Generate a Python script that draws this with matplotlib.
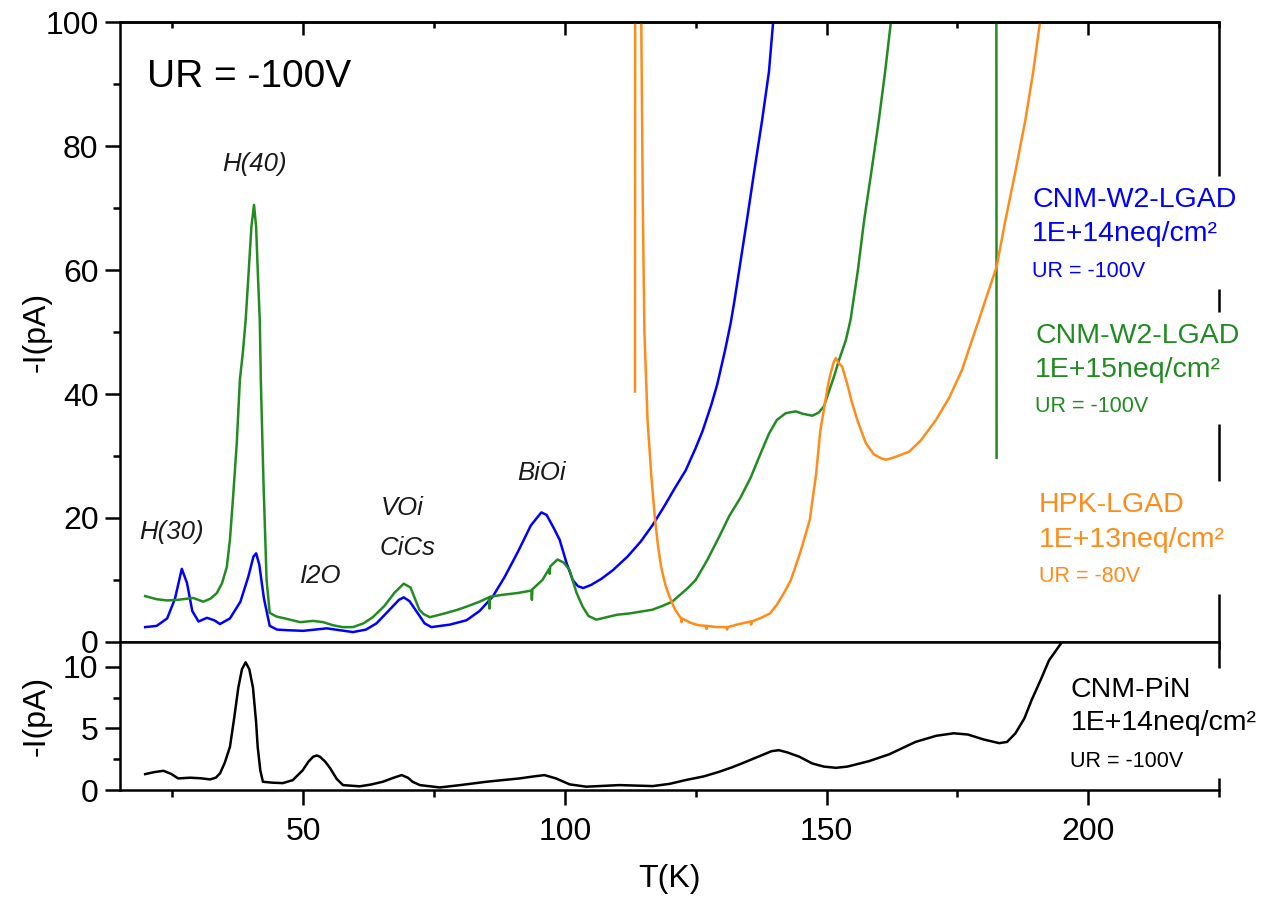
import matplotlib
matplotlib.use("Agg")
import matplotlib.pyplot as plt
from matplotlib.ticker import MultipleLocator

plt.rcParams['font.family'] = ['Liberation Sans', 'DejaVu Sans']

# TSC spectra, -I vs T
blue_T = [19.8, 22, 24, 25.5, 26.8, 27.8, 28.8, 30.0, 31.6, 33, 34.1, 36, 38, 39.5, 40.5, 41.0,
          41.6, 42.5, 43.6, 45, 47, 50, 54.5, 57, 59.5, 62, 64, 66.5, 68.3, 69.2, 70.3, 72, 73.2,
          74.5, 78, 81.2, 83.7, 86.2, 88.5, 91, 93.5, 95.5, 96.5, 97.8, 99, 100.3, 101.5, 102.5,
          103.5, 105, 107, 109.2, 112, 114.5, 116.8, 119, 121, 123.1, 125, 126.3, 128, 129.1,
          130.6, 131.7, 132.4, 133.5, 134.8, 136.2, 137.7, 139, 139.8, 141]
blue_I = [2.4, 2.6, 3.8, 7, 11.8, 9.5, 5, 3.3, 3.9, 3.5, 2.9, 3.8, 6.5, 10.5, 13.8, 14.3,
          12.5, 7, 2.6, 2.0, 1.9, 1.8, 2.2, 1.9, 1.6, 2.0, 3.0, 5.2, 6.8, 7.2, 6.6, 4.5, 3.0,
          2.4, 2.8, 3.5, 5.0, 7.3, 10.5, 14.5, 18.8, 20.9, 20.5, 18.5, 16.5, 12.8, 10.0, 9.0,
          8.7, 9.2, 10.2, 11.6, 13.8, 16.2, 18.9, 21.9, 24.8, 27.7, 31.3, 34.0, 38.3, 41.5,
          47.0, 51.5, 55.0, 61.0, 68.1, 76, 84.2, 92, 100, 110]

green_T = [19.8, 22, 24, 26, 28, 29, 30.9, 32.3, 33.5, 34.5, 35.4, 36.0, 36.6, 37.3, 37.9, 38.5,
           39.0, 39.6, 40.1, 40.6, 41.0, 41.4, 41.7, 41.9, 42.4, 43.0, 43.6, 44.9, 47, 49.4,
           51.9, 53.8, 55.7, 57.5, 59.5, 61.5, 63.3, 65.5, 67.5, 69.2, 70.5, 72.2, 73, 74.2, 77,
           79.5, 81.2, 83.7, 85.5, 85.6, 85.7, 88, 91, 93.6, 93.7, 93.8, 95.7, 97.0, 97.1, 97.2,
           98.6, 99.8, 100.9, 102.2, 103.4, 104.5, 106, 108, 110, 112.3, 114.5, 116.7, 118.6,
           120.5, 122, 123.5, 125, 127.2, 129.5, 131.4, 133.5, 135.5, 137.2, 139, 140.5, 142.2,
           144.1, 145.5, 147.3, 148.5, 149.5, 150.5, 151.5, 152.4, 153.7, 154.6, 156, 157.2,
           158.6, 160, 161.2, 162.3, 170, 182.4, 182.5]
green_I = [7.4, 6.9, 6.7, 6.8, 7.0, 7.1, 6.5, 7.0, 7.9, 9.5, 12.1, 16.5, 23.4, 32, 42.3, 47,
           51.9, 60, 67, 70.5, 67, 58, 51.9, 42.3, 26, 10, 4.7, 4.1, 3.7, 3.2,
           3.4, 3.2, 2.7, 2.4, 2.4, 3.0, 4.0, 5.8, 8.0, 9.4, 8.8, 5.2, 4.5, 4.0, 4.6,
           5.2, 5.7, 6.5, 7.2, 5.4, 7.3, 7.6, 7.9, 8.3, 6.8, 8.5, 10, 11.8, 11.0, 12.2,
           13.3, 12.8, 11.6, 8.0, 5.7, 4.2, 3.6, 4.0, 4.4, 4.6, 4.9, 5.2, 5.8,
           6.5, 7.6, 8.7, 10, 13.2, 17, 20.3, 23.2, 26.5, 30, 33.6, 35.8, 36.9,
           37.2, 36.8, 36.5, 37.0, 38.0, 40.5, 43, 45.5, 48.7, 52, 60, 68.1,
           76, 84.2, 92, 100, 150, 200, 29.7]

orange_T = [113.4, 113.5, 114.3, 114.6, 114.9, 115.2, 115.8, 116.5, 117.2, 117.8, 118.4, 119.2,
            120.0, 121.0, 122.2, 122.3, 122.4, 124, 125.5, 127, 127.1, 127.2, 129, 130.9, 131,
            131.1, 133.3, 135.5, 135.6, 135.7, 137.5, 139.2, 140.5, 141.8, 143.2, 145.0, 146.8,
            148.0, 148.8, 149.6, 150.3, 150.8, 151.4, 151.8, 152.3, 153, 154, 154.9, 156, 157.5,
            159, 160.5, 161.4, 163, 165.8, 168, 170.9, 173.5, 175.9, 177.8, 179.1, 180.5, 182.5,
            184.2, 186, 188.0, 189.5, 190.8, 193]
orange_I = [40.4, 200, 200, 100, 70, 50, 35.8, 27, 20, 15.5, 12.1, 9.2,
            7.3, 5.3, 3.8, 3.2, 3.8, 3.1, 2.7, 2.6, 2.1, 2.6, 2.4, 2.4, 2.0,
            2.4, 2.9, 3.3, 2.8, 3.3, 3.9, 4.6, 6, 7.8, 10, 14.5, 19.7,
            27, 34, 38, 41.5, 43.4, 45.2, 45.8, 45.0, 44.4, 41.5, 38.5, 35.5, 32.1,
            30.3, 29.6, 29.4, 29.8, 30.7, 32.5, 35.8, 39.5, 43.9, 48.7, 51.9, 55.5, 60.5,
            68.1, 75.5, 84.2, 92, 100, 130]

pin_T = [19.8, 21.5, 23.3, 24.8, 26.1, 28.4, 30.5, 32.2, 33.3, 34.1, 35.0, 36.0, 36.8, 37.6,
         38.3, 39.0, 39.7, 40.4, 41.0, 41.3, 41.8, 42.3, 44, 46.1, 48, 49.9, 51, 51.9, 52.6,
         53.2, 54.2, 55.1, 56.4, 57.6, 60.8, 63, 65.2, 67.3, 68.8, 70, 70.9, 72.3, 76.1, 80,
         85, 91.3, 94, 96.1, 98.3, 100.9, 104.1, 110.4, 116.8, 120, 123.1, 126.5, 129.5, 132,
         134.6, 137.5, 139.5, 140.9, 142.5, 144.8, 147.3, 149.5, 151.8, 154, 158.1, 162, 167,
         171, 174.3, 177, 180, 183, 184.5, 186.1, 187.8, 189.2, 191, 192.5, 195, 197]
pin_I = [1.29, 1.45, 1.56, 1.3, 0.94, 1.0, 0.95, 0.86, 1.0, 1.35, 2.2, 3.5, 5.8, 8.3,
         9.8, 10.35, 9.8, 8.3, 5.5, 3.5, 1.6, 0.67, 0.6, 0.56, 0.8, 1.6, 2.3, 2.7, 2.8,
         2.7, 2.3, 1.8, 0.9, 0.4, 0.3, 0.45, 0.67, 1.0, 1.21, 1.0, 0.67, 0.4, 0.21, 0.4,
         0.67, 0.94, 1.1, 1.21, 0.94, 0.46, 0.27, 0.4, 0.32, 0.5, 0.81, 1.1, 1.48, 1.85,
         2.29, 2.8, 3.15, 3.23, 3.05, 2.7, 2.15, 1.9, 1.8, 1.9, 2.34, 2.9, 3.9,
         4.4, 4.6, 4.5, 4.1, 3.8, 3.9, 4.6, 5.8, 7.3, 9.0, 10.5, 12.0, 14.5]

# defect labels: (text, T, I)
peak_names = ['H(30)', 'H(40)', 'I2O', 'VOi', 'CiCs', 'BiOi']
peak_T = [24.9, 40.6, 53.3, 68.9, 69.9, 95.6]
peak_I = [16.6, 76.0, 9.5, 20.5, 14.0, 26.1]

c_blue = '#0000FF'
c_green = '#228B22'
c_orange = '#FF8C1A'

fig = plt.figure(figsize=(12.61, 9.06), dpi=100)
ax1 = fig.add_axes([0.0952, 0.2914, 0.8715, 0.6843])
ax2 = fig.add_axes([0.0952, 0.128, 0.8715, 0.1634], sharex=ax1)

lw = 1.8
ax1.plot(blue_T, blue_I, color=c_blue, lw=lw)
ax1.plot(green_T, green_I, color=c_green, lw=lw)
ax1.plot(orange_T, orange_I, color=c_orange, lw=lw)
ax2.plot(pin_T, pin_I, color='black', lw=lw)

ax1.set_xlim(15, 225)
ax1.set_ylim(0, 100)
ax2.set_ylim(0, 12)

spw = 1.8
fs = 23
for ax in (ax1, ax2):
    for s in ax.spines.values():
        s.set_linewidth(spw)
    ax.spines['right'].set_visible(False)
    ax.xaxis.set_major_locator(MultipleLocator(50))
    ax.xaxis.set_minor_locator(MultipleLocator(25))
    ax.tick_params(which='both', direction='out', width=spw, labelsize=fs)
    ax.tick_params(which='major', length=10.5)
    ax.tick_params(which='minor', length=5)
    ax.tick_params(axis='y', pad=5)
    ax.tick_params(axis='x', pad=9)
    ax.set_ylabel('-I(pA)', fontsize=fs)
    ax.yaxis.set_label_coords(-0.062, 0.5)

ax1.yaxis.set_major_locator(MultipleLocator(20))
ax1.yaxis.set_minor_locator(MultipleLocator(10))
ax1.tick_params(axis='x', labelbottom=False)
ax2.yaxis.set_major_locator(MultipleLocator(5))
ax2.yaxis.set_minor_locator(MultipleLocator(2.5))
ax2.set_xlabel('T(K)', fontsize=fs, labelpad=12)

# inward ticks along the top edge
top = ax1.secondary_xaxis('top')
top.xaxis.set_major_locator(MultipleLocator(50))
top.xaxis.set_minor_locator(MultipleLocator(25))
top.tick_params(which='both', direction='in', width=spw, labeltop=False)
top.tick_params(which='major', length=9)
top.tick_params(which='minor', length=4.5)
top.spines['top'].set_linewidth(spw)

# right edge, broken where the sample labels sit
seg_lo = [75.2, 53.3, 25.9, 0]
seg_hi = [100, 56.9, 35.2, 7.7]
ax1.vlines([225] * len(seg_lo), seg_lo, seg_hi, color='black', lw=spw, clip_on=False)
ax2.vlines([225, 225], [9.9, 0], [12, 0.97], color='black', lw=spw, clip_on=False)

ax1.text(20.1, 89.5, 'UR = -100V', fontsize=28, ha='left', va='baseline')
for name, t, i in zip(peak_names, peak_T, peak_I):
    ax1.text(t, i, name, fontsize=18.5, style='italic', ha='center', va='baseline',
             color='#1a1a1a')

def sample_label(ax, t, rows, color):
    for (txt, size), y in zip(rows[0], rows[1]):
        ax.text(t, y, txt, fontsize=size, color=color, ha='left', va='baseline',
                clip_on=False)

big, small = 20.5, 15.5
sample_label(ax1, 189.3, ([('CNM-W2-LGAD', big), ('1E+14neq/cm²', big), ('UR = -100V', small)],
                          [70.2, 64.6, 58.9]), c_blue)
sample_label(ax1, 189.9, ([('CNM-W2-LGAD', big), ('1E+15neq/cm²', big), ('UR = -100V', small)],
                          [48.3, 42.8, 37.1]), c_green)
sample_label(ax1, 190.6, ([('HPK-LGAD', big), ('1E+13neq/cm²', big), ('UR = -80V', small)],
                          [21.0, 15.3, 9.6]), c_orange)
sample_label(ax2, 196.6, ([('CNM-PiN', big), ('1E+14neq/cm²', big), ('UR = -100V', small)],
                          [7.58, 4.84, 1.88]), 'black')

fig.savefig('out.png', dpi=100)
